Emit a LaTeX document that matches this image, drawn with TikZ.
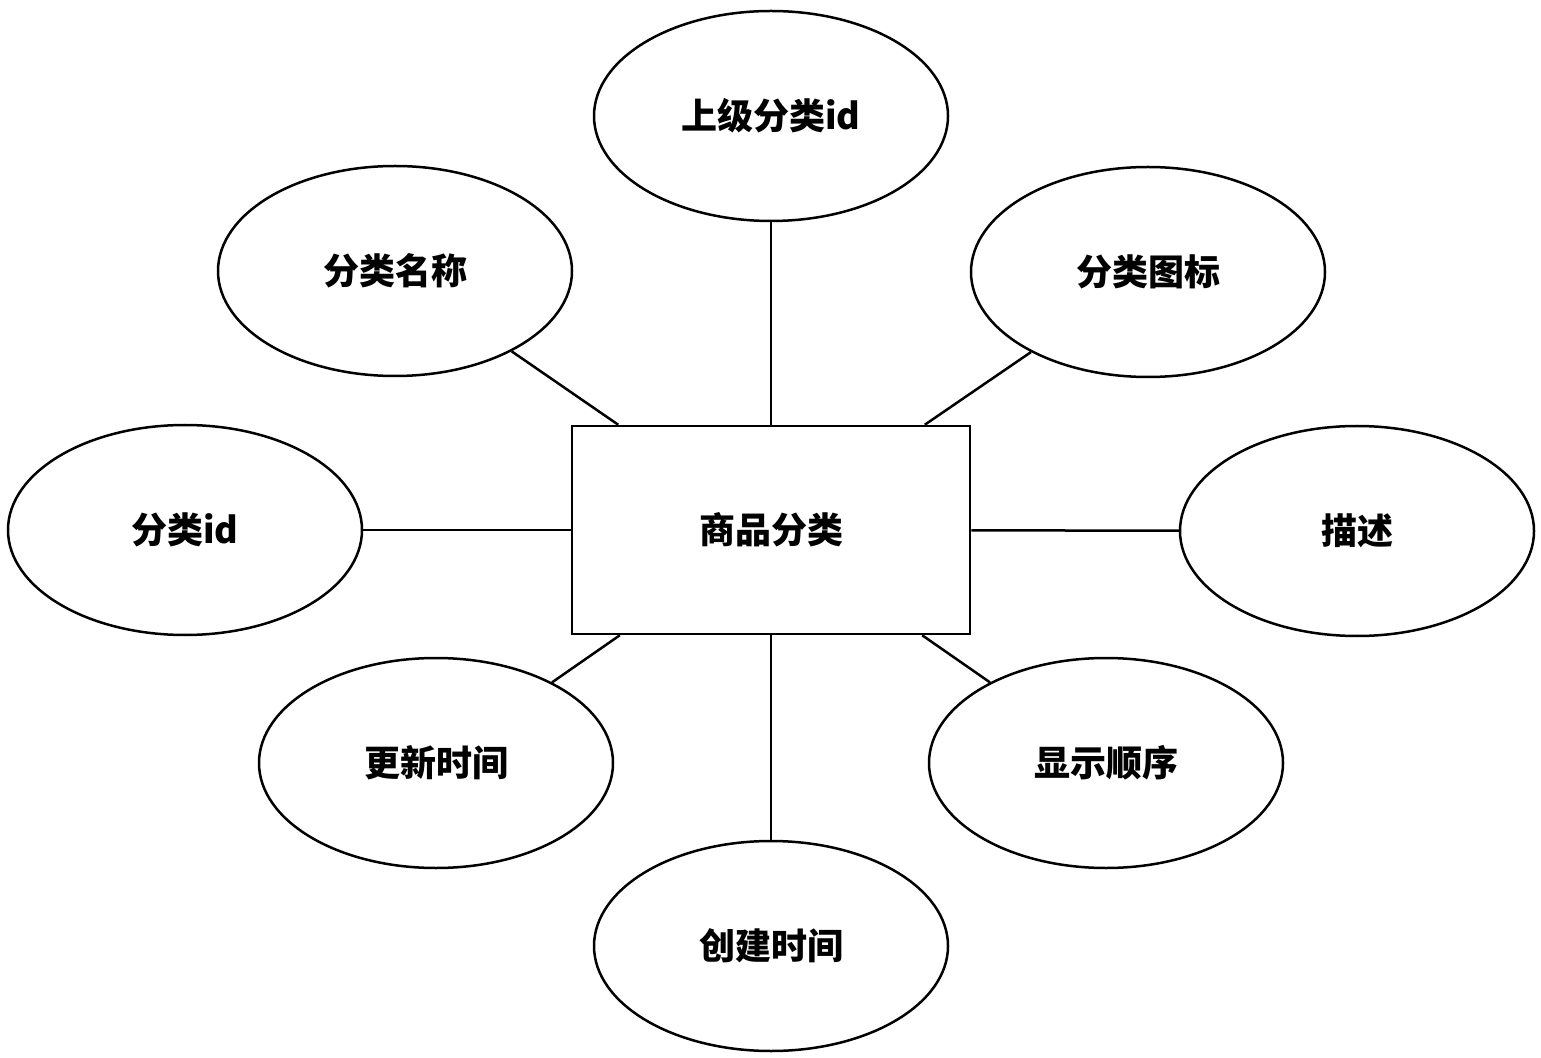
\documentclass[tikz,border=0pt]{standalone}
\usepackage{fontspec}
\newfontfamily\cjk{Noto Sans CJK SC}
\usetikzlibrary{shapes.geometric}
\begin{document}
\begin{tikzpicture}
    [x=0.5pt,y=-0.5pt,
     entitystyle/.style={draw=black,line width=1.25pt,rectangle,minimum width=199pt,minimum height=104pt,
       font=\cjk\bfseries\fontsize{18}{20}\selectfont},
     attrstyle/.style={draw=black,line width=1.25pt,ellipse,minimum width=177pt,minimum height=105pt,
       font=\cjk\bfseries\fontsize{18}{20}\selectfont},
     linkstyle/.style={draw=black,line width=1.25pt}]

    \useasboundingbox (0,0) rectangle (1541,1058);

    \node[entitystyle] (cat) at (771,530) {商品分类};

    \node[attrstyle] (parent) at (771,116) {上级分类id};
    \node[attrstyle] (name) at (395,271) {分类名称};
    \node[attrstyle] (icon) at (1148,272) {分类图标};
    \node[attrstyle] (id) at (185,530) {分类id};
    \node[attrstyle] (desc) at (1357,531) {描述};
    \node[attrstyle] (updated) at (436,763) {更新时间};
    \node[attrstyle] (order) at (1106,763) {显示顺序};
    \node[attrstyle] (created) at (771,946) {创建时间};

    \draw [linkstyle] (parent) -- (cat);
    \draw [linkstyle] (name) -- (cat);
    \draw [linkstyle] (icon) -- (cat);
    \draw [linkstyle] (id) -- (cat);
    \draw [linkstyle] (desc) -- (cat);
    \draw [linkstyle] (updated) -- (cat);
    \draw [linkstyle] (order) -- (cat);
    \draw [linkstyle] (created) -- (cat);
  \end{tikzpicture}
\end{document}
